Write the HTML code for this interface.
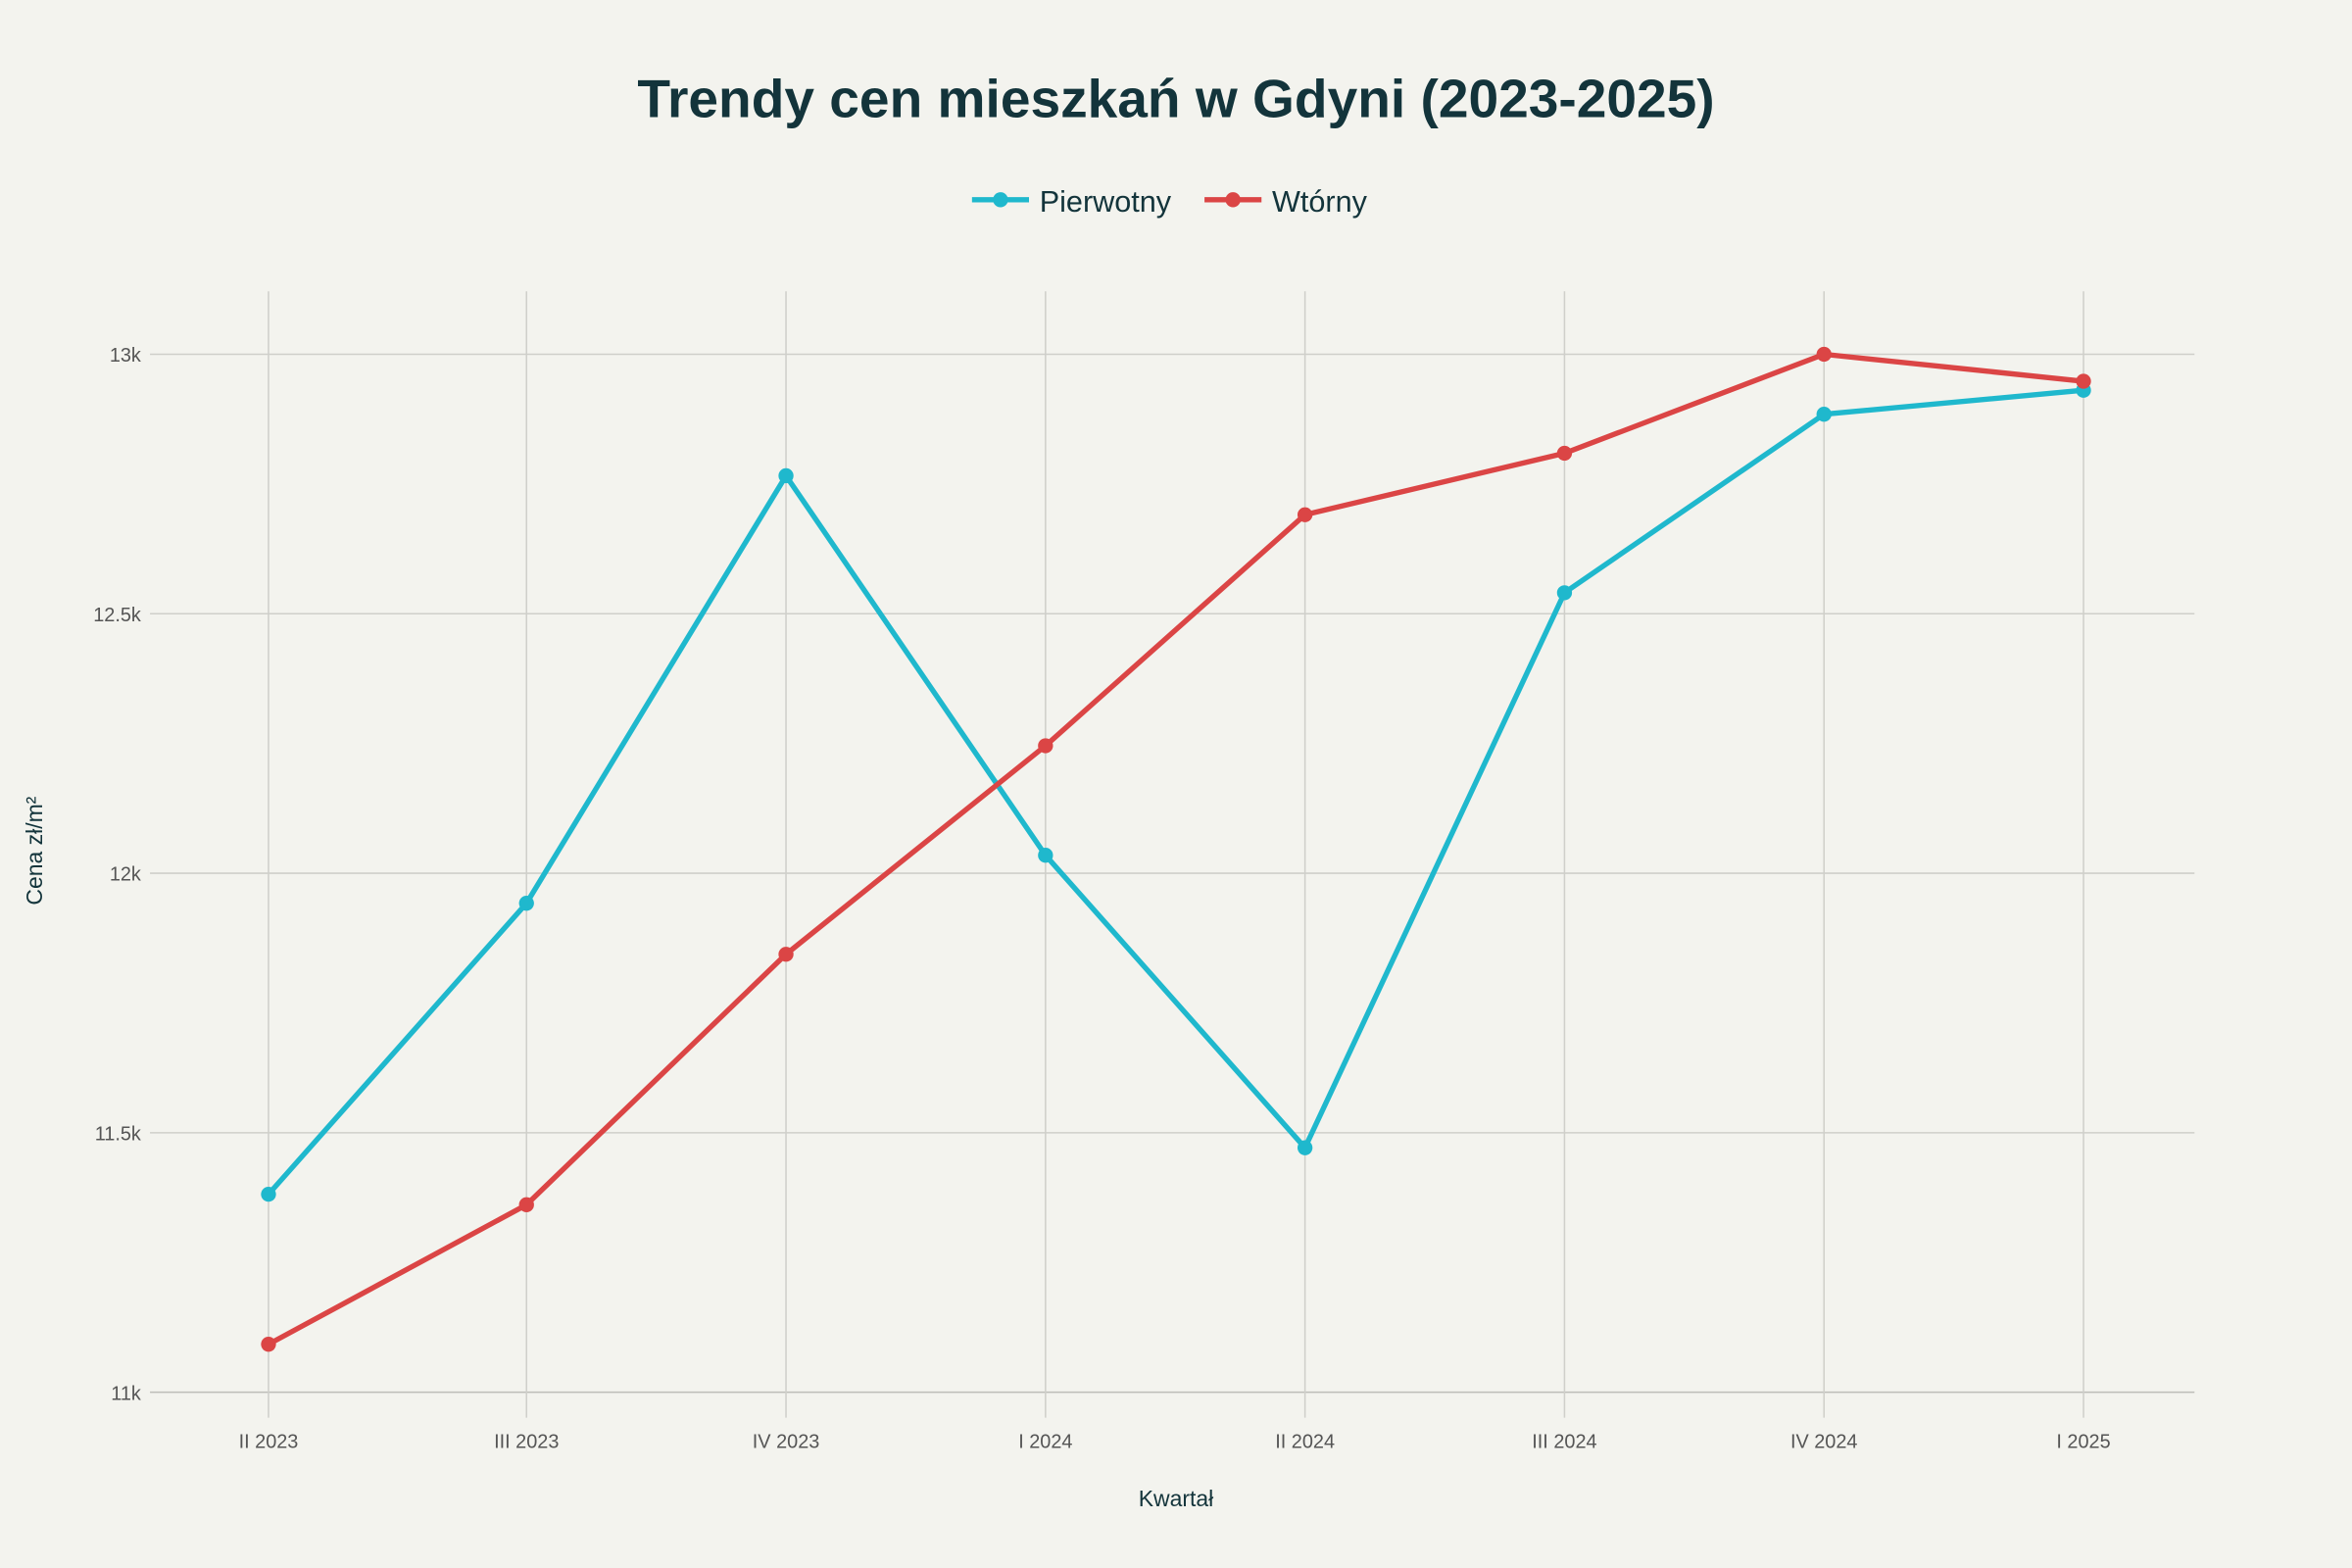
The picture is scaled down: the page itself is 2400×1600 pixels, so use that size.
<!DOCTYPE html>
<html><head><meta charset="utf-8"><style>html,body{margin:0;padding:0;background:#f3f3ee}svg{display:block}</style></head>
<body>
<svg width="2400" height="1600" viewBox="0 0 1568 1045" xmlns="http://www.w3.org/2000/svg" font-family="Liberation Sans, DejaVu Sans, sans-serif">
<rect width="1568" height="1045" fill="#f3f3ee"/>
<g stroke="#cfcfca" stroke-width="1">
<line x1="100" x2="1463" y1="236" y2="236"/><line x1="100" x2="1463" y1="409" y2="409"/>
<line x1="100" x2="1463" y1="582" y2="582"/><line x1="100" x2="1463" y1="755" y2="755"/>
<line x1="100" x2="1463" y1="928" y2="928" stroke="#bdbdb8"/>
<line x1="179" x2="179" y1="194" y2="945"/><line x1="351" x2="351" y1="194" y2="945"/>
<line x1="524" x2="524" y1="194" y2="945"/><line x1="697" x2="697" y1="194" y2="945"/>
<line x1="870" x2="870" y1="194" y2="945"/><line x1="1043" x2="1043" y1="194" y2="945"/>
<line x1="1216" x2="1216" y1="194" y2="945"/><line x1="1389" x2="1389" y1="194" y2="945"/>
</g>
<g font-size="13" fill="#555" text-anchor="end">
<text x="94" y="241">13k</text><text x="94" y="414">12.5k</text><text x="94" y="587">12k</text><text x="94" y="760">11.5k</text><text x="94" y="933">11k</text>
</g>
<g font-size="13" fill="#555" text-anchor="middle">
<text x="179" y="965">II 2023</text><text x="351" y="965">III 2023</text><text x="524" y="965">IV 2023</text><text x="697" y="965">I 2024</text>
<text x="870" y="965">II 2024</text><text x="1043" y="965">III 2024</text><text x="1216" y="965">IV 2024</text><text x="1389" y="965">I 2025</text>
</g>
<text x="784" y="1004" font-size="15" fill="#13343b" text-anchor="middle">Kwartał</text>
<text transform="translate(28,567) rotate(-90)" font-size="15" fill="#13343b" text-anchor="middle">Cena zł/m²</text>
<text x="784" y="78" font-size="36" font-weight="bold" fill="#13343b" text-anchor="middle">Trendy cen mieszkań w Gdyni (2023-2025)</text>
<line x1="648" x2="686" y1="133" y2="133" stroke="#1fb8cd" stroke-width="3.5"/><circle cx="667" cy="133" r="5" fill="#1fb8cd"/>
<text x="693" y="141" font-size="20" fill="#13343b">Pierwotny</text>
<line x1="803" x2="841" y1="133" y2="133" stroke="#db4545" stroke-width="3.5"/><circle cx="822" cy="133" r="5" fill="#db4545"/>
<text x="848" y="141" font-size="20" fill="#13343b">Wtórny</text>
<polyline fill="none" stroke="#1fb8cd" stroke-width="3.5" stroke-linejoin="round" points="179,796 351,602 524,317 697,570 870,765 1043,395 1216,276 1389,260"/>
<g fill="#1fb8cd"><circle cx="179" cy="796" r="5"/><circle cx="351" cy="602" r="5"/><circle cx="524" cy="317" r="5"/><circle cx="697" cy="570" r="5"/><circle cx="870" cy="765" r="5"/><circle cx="1043" cy="395" r="5"/><circle cx="1216" cy="276" r="5"/><circle cx="1389" cy="260" r="5"/></g>
<polyline fill="none" stroke="#db4545" stroke-width="3.5" stroke-linejoin="round" points="179,896 351,803 524,636 697,497 870,343 1043,302 1216,236 1389,254"/>
<g fill="#db4545"><circle cx="179" cy="896" r="5"/><circle cx="351" cy="803" r="5"/><circle cx="524" cy="636" r="5"/><circle cx="697" cy="497" r="5"/><circle cx="870" cy="343" r="5"/><circle cx="1043" cy="302" r="5"/><circle cx="1216" cy="236" r="5"/><circle cx="1389" cy="254" r="5"/></g>
</svg>
</body></html>
